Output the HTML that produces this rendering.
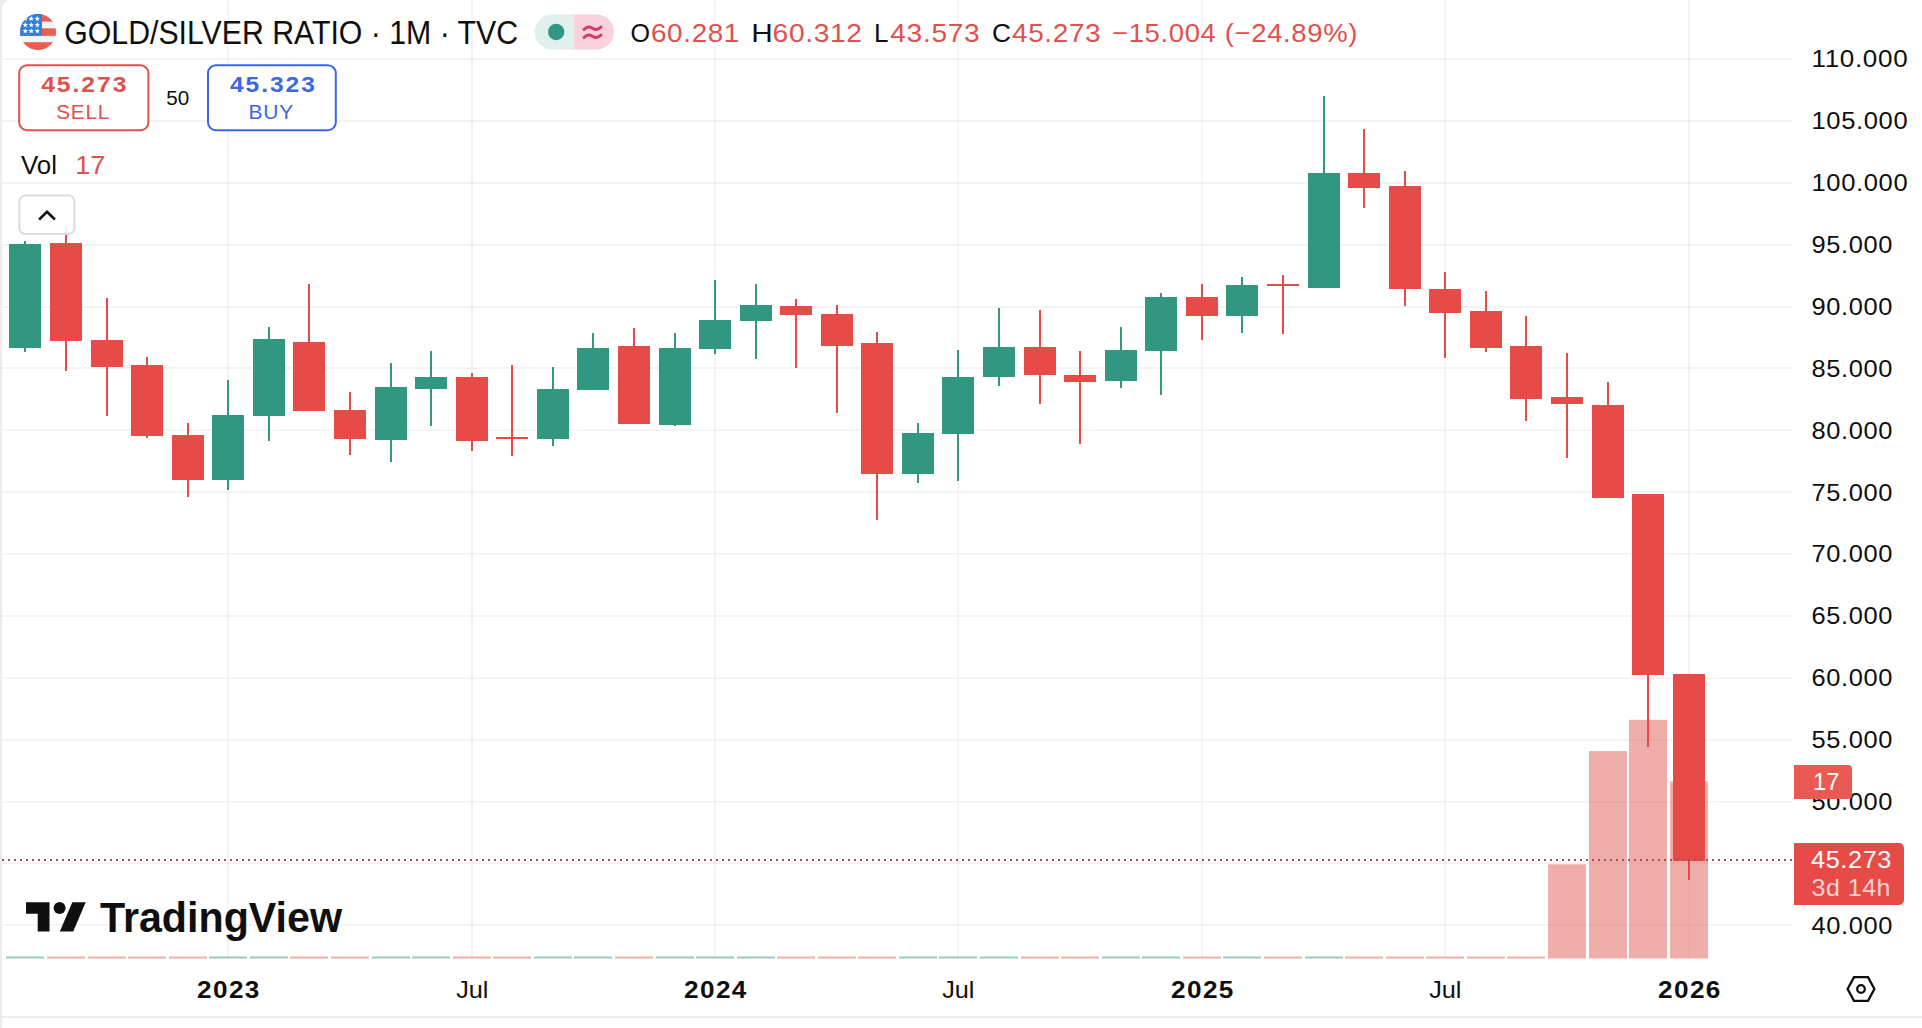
<!DOCTYPE html>
<html lang="en"><head><meta charset="utf-8"><title>GOLD/SILVER RATIO · 1M · TVC</title>
<style>html,body{margin:0;padding:0;background:#fff;overflow:hidden}svg{display:block}text{white-space:pre;font-family:"Liberation Sans",Arial,sans-serif}</style></head><body>
<svg width="1922" height="1028" viewBox="0 0 1922 1028" role="img" aria-label="GOLD/SILVER RATIO monthly candlestick chart">
<rect x="0" y="0" width="1922" height="1028" fill="#ececec"/>
<path d="M2 1016V9a9 9 0 0 1 9-9H1922V1016Z" fill="#fff"/>
<rect x="2" y="1018" width="1920" height="10" fill="#fff"/>
<g fill="#000" fill-opacity="0.043">
<rect x="2" y="58" width="1790" height="2"/>
<rect x="2" y="120" width="1790" height="2"/>
<rect x="2" y="182" width="1790" height="2"/>
<rect x="2" y="244" width="1790" height="2"/>
<rect x="2" y="306" width="1790" height="2"/>
<rect x="2" y="367" width="1790" height="2"/>
<rect x="2" y="429" width="1790" height="2"/>
<rect x="2" y="491" width="1790" height="2"/>
<rect x="2" y="553" width="1790" height="2"/>
<rect x="2" y="615" width="1790" height="2"/>
<rect x="2" y="677" width="1790" height="2"/>
<rect x="2" y="739" width="1790" height="2"/>
<rect x="2" y="801" width="1790" height="2"/>
<rect x="2" y="862" width="1790" height="2"/>
<rect x="2" y="924" width="1790" height="2"/>
<rect x="227.0" y="0" width="2" height="958"/>
<rect x="471.0" y="0" width="2" height="958"/>
<rect x="714.0" y="0" width="2" height="958"/>
<rect x="957.0" y="0" width="2" height="958"/>
<rect x="1201.0" y="0" width="2" height="958"/>
<rect x="1444.0" y="0" width="2" height="958"/>
<rect x="1688.0" y="0" width="2" height="958"/>
</g>
<g>
<rect x="6.0" y="956.5" width="38" height="2.0" fill="#319781" fill-opacity="0.5"/>
<rect x="47.0" y="956.5" width="38" height="2.0" fill="#e25d55" fill-opacity="0.5"/>
<rect x="88.0" y="956.5" width="38" height="2.0" fill="#e25d55" fill-opacity="0.5"/>
<rect x="128.0" y="956.5" width="38" height="2.0" fill="#e25d55" fill-opacity="0.5"/>
<rect x="169.0" y="956.5" width="38" height="2.0" fill="#e25d55" fill-opacity="0.5"/>
<rect x="209.0" y="956.5" width="38" height="2.0" fill="#319781" fill-opacity="0.5"/>
<rect x="250.0" y="956.5" width="38" height="2.0" fill="#319781" fill-opacity="0.5"/>
<rect x="290.0" y="956.5" width="38" height="2.0" fill="#e25d55" fill-opacity="0.5"/>
<rect x="331.0" y="956.5" width="38" height="2.0" fill="#e25d55" fill-opacity="0.5"/>
<rect x="372.0" y="956.5" width="38" height="2.0" fill="#319781" fill-opacity="0.5"/>
<rect x="412.0" y="956.5" width="38" height="2.0" fill="#319781" fill-opacity="0.5"/>
<rect x="453.0" y="956.5" width="38" height="2.0" fill="#e25d55" fill-opacity="0.5"/>
<rect x="493.0" y="956.5" width="38" height="2.0" fill="#e25d55" fill-opacity="0.5"/>
<rect x="534.0" y="956.5" width="38" height="2.0" fill="#319781" fill-opacity="0.5"/>
<rect x="574.0" y="956.5" width="38" height="2.0" fill="#319781" fill-opacity="0.5"/>
<rect x="615.0" y="956.5" width="38" height="2.0" fill="#e25d55" fill-opacity="0.5"/>
<rect x="656.0" y="956.5" width="38" height="2.0" fill="#319781" fill-opacity="0.5"/>
<rect x="696.0" y="956.5" width="38" height="2.0" fill="#319781" fill-opacity="0.5"/>
<rect x="737.0" y="956.5" width="38" height="2.0" fill="#319781" fill-opacity="0.5"/>
<rect x="777.0" y="956.5" width="38" height="2.0" fill="#e25d55" fill-opacity="0.5"/>
<rect x="818.0" y="956.5" width="38" height="2.0" fill="#e25d55" fill-opacity="0.5"/>
<rect x="858.0" y="956.5" width="38" height="2.0" fill="#e25d55" fill-opacity="0.5"/>
<rect x="899.0" y="956.5" width="38" height="2.0" fill="#319781" fill-opacity="0.5"/>
<rect x="939.0" y="956.5" width="38" height="2.0" fill="#319781" fill-opacity="0.5"/>
<rect x="980.0" y="956.5" width="38" height="2.0" fill="#319781" fill-opacity="0.5"/>
<rect x="1021.0" y="956.5" width="38" height="2.0" fill="#e25d55" fill-opacity="0.5"/>
<rect x="1061.0" y="956.5" width="38" height="2.0" fill="#e25d55" fill-opacity="0.5"/>
<rect x="1102.0" y="956.5" width="38" height="2.0" fill="#319781" fill-opacity="0.5"/>
<rect x="1142.0" y="956.5" width="38" height="2.0" fill="#319781" fill-opacity="0.5"/>
<rect x="1183.0" y="956.5" width="38" height="2.0" fill="#e25d55" fill-opacity="0.5"/>
<rect x="1223.0" y="956.5" width="38" height="2.0" fill="#319781" fill-opacity="0.5"/>
<rect x="1264.0" y="956.5" width="38" height="2.0" fill="#e25d55" fill-opacity="0.5"/>
<rect x="1305.0" y="956.5" width="38" height="2.0" fill="#319781" fill-opacity="0.5"/>
<rect x="1345.0" y="956.5" width="38" height="2.0" fill="#e25d55" fill-opacity="0.5"/>
<rect x="1386.0" y="956.5" width="38" height="2.0" fill="#e25d55" fill-opacity="0.5"/>
<rect x="1426.0" y="956.5" width="38" height="2.0" fill="#e25d55" fill-opacity="0.5"/>
<rect x="1467.0" y="956.5" width="38" height="2.0" fill="#e25d55" fill-opacity="0.5"/>
<rect x="1507.0" y="956.5" width="38" height="2.0" fill="#e25d55" fill-opacity="0.5"/>
<rect x="1548.0" y="864.3" width="38" height="94.2" fill="#e25d55" fill-opacity="0.5"/>
<rect x="1589.0" y="751.1" width="38" height="207.4" fill="#e25d55" fill-opacity="0.5"/>
<rect x="1629.0" y="719.8" width="38" height="238.7" fill="#e25d55" fill-opacity="0.5"/>
<rect x="1670.0" y="781.4" width="38" height="177.1" fill="#e25d55" fill-opacity="0.5"/>
</g>
<g>
<rect x="24" y="241" width="2" height="111" fill="#319781"/>
<rect x="9" y="244" width="32" height="104" fill="#319781"/>
<rect x="65" y="226" width="2" height="145" fill="#e64b48"/>
<rect x="50" y="243" width="32" height="98" fill="#e64b48"/>
<rect x="106" y="298" width="2" height="118" fill="#e64b48"/>
<rect x="91" y="340" width="32" height="27" fill="#e64b48"/>
<rect x="146" y="357" width="2" height="81" fill="#e64b48"/>
<rect x="131" y="365" width="32" height="71" fill="#e64b48"/>
<rect x="187" y="423" width="2" height="74" fill="#e64b48"/>
<rect x="172" y="435" width="32" height="45" fill="#e64b48"/>
<rect x="227" y="380" width="2" height="110" fill="#319781"/>
<rect x="212" y="415" width="32" height="65" fill="#319781"/>
<rect x="268" y="327" width="2" height="114" fill="#319781"/>
<rect x="253" y="339" width="32" height="77" fill="#319781"/>
<rect x="308" y="284" width="2" height="127" fill="#e64b48"/>
<rect x="293" y="342" width="32" height="69" fill="#e64b48"/>
<rect x="349" y="392" width="2" height="63" fill="#e64b48"/>
<rect x="334" y="410" width="32" height="29" fill="#e64b48"/>
<rect x="390" y="363" width="2" height="99" fill="#319781"/>
<rect x="375" y="387" width="32" height="53" fill="#319781"/>
<rect x="430" y="351" width="2" height="75" fill="#319781"/>
<rect x="415" y="377" width="32" height="12" fill="#319781"/>
<rect x="471" y="373" width="2" height="78" fill="#e64b48"/>
<rect x="456" y="377" width="32" height="64" fill="#e64b48"/>
<rect x="511" y="365" width="2" height="91" fill="#e64b48"/>
<rect x="496" y="437" width="32" height="2" fill="#e64b48"/>
<rect x="552" y="367" width="2" height="79" fill="#319781"/>
<rect x="537" y="389" width="32" height="50" fill="#319781"/>
<rect x="592" y="333" width="2" height="57" fill="#319781"/>
<rect x="577" y="348" width="32" height="42" fill="#319781"/>
<rect x="633" y="328" width="2" height="96" fill="#e64b48"/>
<rect x="618" y="346" width="32" height="78" fill="#e64b48"/>
<rect x="674" y="333" width="2" height="93" fill="#319781"/>
<rect x="659" y="348" width="32" height="77" fill="#319781"/>
<rect x="714" y="280" width="2" height="74" fill="#319781"/>
<rect x="699" y="320" width="32" height="29" fill="#319781"/>
<rect x="755" y="284" width="2" height="75" fill="#319781"/>
<rect x="740" y="305" width="32" height="16" fill="#319781"/>
<rect x="795" y="299" width="2" height="69" fill="#e64b48"/>
<rect x="780" y="306" width="32" height="9" fill="#e64b48"/>
<rect x="836" y="305" width="2" height="108" fill="#e64b48"/>
<rect x="821" y="314" width="32" height="32" fill="#e64b48"/>
<rect x="876" y="332" width="2" height="188" fill="#e64b48"/>
<rect x="861" y="343" width="32" height="131" fill="#e64b48"/>
<rect x="917" y="423" width="2" height="60" fill="#319781"/>
<rect x="902" y="433" width="32" height="41" fill="#319781"/>
<rect x="957" y="350" width="2" height="131" fill="#319781"/>
<rect x="942" y="377" width="32" height="57" fill="#319781"/>
<rect x="998" y="308" width="2" height="78" fill="#319781"/>
<rect x="983" y="347" width="32" height="30" fill="#319781"/>
<rect x="1039" y="310" width="2" height="94" fill="#e64b48"/>
<rect x="1024" y="347" width="32" height="28" fill="#e64b48"/>
<rect x="1079" y="351" width="2" height="93" fill="#e64b48"/>
<rect x="1064" y="375" width="32" height="7" fill="#e64b48"/>
<rect x="1120" y="327" width="2" height="61" fill="#319781"/>
<rect x="1105" y="350" width="32" height="31" fill="#319781"/>
<rect x="1160" y="293" width="2" height="102" fill="#319781"/>
<rect x="1145" y="297" width="32" height="54" fill="#319781"/>
<rect x="1201" y="284" width="2" height="56" fill="#e64b48"/>
<rect x="1186" y="297" width="32" height="19" fill="#e64b48"/>
<rect x="1241" y="277" width="2" height="56" fill="#319781"/>
<rect x="1226" y="285" width="32" height="31" fill="#319781"/>
<rect x="1282" y="275" width="2" height="59" fill="#e64b48"/>
<rect x="1267" y="284" width="32" height="2" fill="#e64b48"/>
<rect x="1323" y="96" width="2" height="192" fill="#319781"/>
<rect x="1308" y="173" width="32" height="115" fill="#319781"/>
<rect x="1363" y="129" width="2" height="79" fill="#e64b48"/>
<rect x="1348" y="173" width="32" height="15" fill="#e64b48"/>
<rect x="1404" y="171" width="2" height="135" fill="#e64b48"/>
<rect x="1389" y="186" width="32" height="103" fill="#e64b48"/>
<rect x="1444" y="272" width="2" height="86" fill="#e64b48"/>
<rect x="1429" y="289" width="32" height="24" fill="#e64b48"/>
<rect x="1485" y="291" width="2" height="61" fill="#e64b48"/>
<rect x="1470" y="311" width="32" height="37" fill="#e64b48"/>
<rect x="1525" y="316" width="2" height="105" fill="#e64b48"/>
<rect x="1510" y="346" width="32" height="53" fill="#e64b48"/>
<rect x="1566" y="353" width="2" height="105" fill="#e64b48"/>
<rect x="1551" y="397" width="32" height="7" fill="#e64b48"/>
<rect x="1607" y="382" width="2" height="116" fill="#e64b48"/>
<rect x="1592" y="405" width="32" height="93" fill="#e64b48"/>
<rect x="1647" y="494" width="2" height="253" fill="#e64b48"/>
<rect x="1632" y="494" width="32" height="181" fill="#e64b48"/>
<rect x="1688" y="674" width="2" height="206" fill="#e64b48"/>
<rect x="1673" y="674" width="32" height="187" fill="#e64b48"/>
</g>
<path d="M2 860H1793" stroke="#b4465f" stroke-width="2" stroke-dasharray="2 4" fill="none"/>
<text x="1811.5" y="67.2" font-size="24" fill="#0f0f0f" textLength="96.8" lengthAdjust="spacingAndGlyphs" letter-spacing="0.6" >110.000</text>
<text x="1811.5" y="129.1" font-size="24" fill="#0f0f0f" textLength="96.8" lengthAdjust="spacingAndGlyphs" letter-spacing="0.6" >105.000</text>
<text x="1811.5" y="191.0" font-size="24" fill="#0f0f0f" textLength="96.8" lengthAdjust="spacingAndGlyphs" letter-spacing="0.6" >100.000</text>
<text x="1811.5" y="252.9" font-size="24" fill="#0f0f0f" textLength="81.6" lengthAdjust="spacingAndGlyphs" letter-spacing="0.6" >95.000</text>
<text x="1811.5" y="314.8" font-size="24" fill="#0f0f0f" textLength="81.6" lengthAdjust="spacingAndGlyphs" letter-spacing="0.6" >90.000</text>
<text x="1811.5" y="376.7" font-size="24" fill="#0f0f0f" textLength="81.6" lengthAdjust="spacingAndGlyphs" letter-spacing="0.6" >85.000</text>
<text x="1811.5" y="438.6" font-size="24" fill="#0f0f0f" textLength="81.6" lengthAdjust="spacingAndGlyphs" letter-spacing="0.6" >80.000</text>
<text x="1811.5" y="500.5" font-size="24" fill="#0f0f0f" textLength="81.6" lengthAdjust="spacingAndGlyphs" letter-spacing="0.6" >75.000</text>
<text x="1811.5" y="562.4" font-size="24" fill="#0f0f0f" textLength="81.6" lengthAdjust="spacingAndGlyphs" letter-spacing="0.6" >70.000</text>
<text x="1811.5" y="624.3" font-size="24" fill="#0f0f0f" textLength="81.6" lengthAdjust="spacingAndGlyphs" letter-spacing="0.6" >65.000</text>
<text x="1811.5" y="686.2" font-size="24" fill="#0f0f0f" textLength="81.6" lengthAdjust="spacingAndGlyphs" letter-spacing="0.6" >60.000</text>
<text x="1811.5" y="748.1" font-size="24" fill="#0f0f0f" textLength="81.6" lengthAdjust="spacingAndGlyphs" letter-spacing="0.6" >55.000</text>
<text x="1811.5" y="810.0" font-size="24" fill="#0f0f0f" textLength="81.6" lengthAdjust="spacingAndGlyphs" letter-spacing="0.6" >50.000</text>
<text x="1811.5" y="871.9" font-size="24" fill="#0f0f0f" textLength="81.6" lengthAdjust="spacingAndGlyphs" letter-spacing="0.6" >45.000</text>
<text x="1811.5" y="933.8" font-size="24" fill="#0f0f0f" textLength="81.6" lengthAdjust="spacingAndGlyphs" letter-spacing="0.6" >40.000</text>
<text x="197.0" y="998.2" font-size="24" fill="#0f0f0f" font-weight="700" textLength="63.8" lengthAdjust="spacingAndGlyphs" letter-spacing="1.3" >2023</text>
<text x="456.2" y="998.2" font-size="24" fill="#0f0f0f" textLength="32.3" lengthAdjust="spacingAndGlyphs" >Jul</text>
<text x="684.0" y="998.2" font-size="24" fill="#0f0f0f" font-weight="700" textLength="63.8" lengthAdjust="spacingAndGlyphs" letter-spacing="1.3" >2024</text>
<text x="942.2" y="998.2" font-size="24" fill="#0f0f0f" textLength="32.3" lengthAdjust="spacingAndGlyphs" >Jul</text>
<text x="1171.0" y="998.2" font-size="24" fill="#0f0f0f" font-weight="700" textLength="63.8" lengthAdjust="spacingAndGlyphs" letter-spacing="1.3" >2025</text>
<text x="1429.2" y="998.2" font-size="24" fill="#0f0f0f" textLength="32.3" lengthAdjust="spacingAndGlyphs" >Jul</text>
<text x="1658.0" y="998.2" font-size="24" fill="#0f0f0f" font-weight="700" textLength="63.8" lengthAdjust="spacingAndGlyphs" letter-spacing="1.3" >2026</text>
<g fill="none" stroke="#0f0f0f" stroke-width="2.3" stroke-linejoin="miter"><path d="M1847.6 989L1854 977.2H1868L1874.4 989L1868 1000.8H1854Z"/><circle cx="1861" cy="989" r="3.8"/></g>
<path d="M1794 765H1848a4 4 0 0 1 4 4V795a4 4 0 0 1-4 4H1794Z" fill="#e85a52"/>
<text x="1813.0" y="789.6" font-size="24" fill="#fff" textLength="26.5" lengthAdjust="spacingAndGlyphs" >17</text>
<path d="M1794 843H1899a5 5 0 0 1 5 5V900a5 5 0 0 1-5 5H1794Z" fill="#e64b48"/>
<text x="1811.0" y="867.8" font-size="24" fill="#fff" textLength="81.0" lengthAdjust="spacingAndGlyphs" letter-spacing="0.6" >45.273</text>
<text x="1811.5" y="895.9" font-size="24" fill="#fbd3d1" textLength="79.5" lengthAdjust="spacingAndGlyphs" letter-spacing="0.5" >3d 14h</text>
<defs><clipPath id="fc"><circle cx="38" cy="32" r="18"/></clipPath></defs>
<g clip-path="url(#fc)"><rect x="20" y="14" width="36" height="36" fill="#f3f5f7"/>
<rect x="20" y="14" width="36" height="7.6" fill="#ea5d50"/><rect x="20" y="28.3" width="36" height="7.5" fill="#ea5d50"/><rect x="20" y="42.2" width="36" height="8" fill="#ea5d50"/>
<rect x="20" y="14" width="22" height="21.8" fill="#2f7fe0"/>
<polygon points="25.30,16.00 26.04,17.78 27.96,17.93 26.50,19.19 26.95,21.07 25.30,20.06 23.65,21.07 24.10,19.19 22.64,17.93 24.56,17.78" fill="#fff"/>
<polygon points="25.30,22.10 26.04,23.88 27.96,24.03 26.50,25.29 26.95,27.17 25.30,26.16 23.65,27.17 24.10,25.29 22.64,24.03 24.56,23.88" fill="#fff"/>
<polygon points="25.30,28.20 26.04,29.98 27.96,30.13 26.50,31.39 26.95,33.27 25.30,32.26 23.65,33.27 24.10,31.39 22.64,30.13 24.56,29.98" fill="#fff"/>
<polygon points="31.20,16.00 31.94,17.78 33.86,17.93 32.40,19.19 32.85,21.07 31.20,20.06 29.55,21.07 30.00,19.19 28.54,17.93 30.46,17.78" fill="#fff"/>
<polygon points="31.20,22.10 31.94,23.88 33.86,24.03 32.40,25.29 32.85,27.17 31.20,26.16 29.55,27.17 30.00,25.29 28.54,24.03 30.46,23.88" fill="#fff"/>
<polygon points="31.20,28.20 31.94,29.98 33.86,30.13 32.40,31.39 32.85,33.27 31.20,32.26 29.55,33.27 30.00,31.39 28.54,30.13 30.46,29.98" fill="#fff"/>
<polygon points="37.30,16.00 38.04,17.78 39.96,17.93 38.50,19.19 38.95,21.07 37.30,20.06 35.65,21.07 36.10,19.19 34.64,17.93 36.56,17.78" fill="#fff"/>
<polygon points="37.30,22.10 38.04,23.88 39.96,24.03 38.50,25.29 38.95,27.17 37.30,26.16 35.65,27.17 36.10,25.29 34.64,24.03 36.56,23.88" fill="#fff"/>
<polygon points="37.30,28.20 38.04,29.98 39.96,30.13 38.50,31.39 38.95,33.27 37.30,32.26 35.65,33.27 36.10,31.39 34.64,30.13 36.56,29.98" fill="#fff"/>
</g>
<text x="64.3" y="44.0" font-size="33" fill="#0f0f0f" textLength="453.8" lengthAdjust="spacingAndGlyphs">GOLD/SILVER RATIO · 1M · TVC</text>
<path d="M574 14.5H552a17.5 17.5 0 0 0 0 35H574Z" fill="#e0f0ed"/>
<path d="M574 14.5H596.5a17.5 17.5 0 0 1 0 35H574Z" fill="#f9d2db"/>
<circle cx="556.2" cy="32" r="8.2" fill="#319781"/>
<g fill="none" stroke="#d43a6a" stroke-width="3" stroke-linecap="round"><path d="M584 29.5q4.2-4.2 8.5-1.2t8.5-1.3"/><path d="M584 37.5q4.2-4.2 8.5-1.2t8.5-1.3"/></g>
<text x="630.5" y="41.6" font-size="26" fill="#0f0f0f" textLength="19.5" lengthAdjust="spacingAndGlyphs" >O</text>
<text x="651.0" y="41.6" font-size="26" fill="#e0504d" textLength="89.0" lengthAdjust="spacingAndGlyphs" letter-spacing="0.6" >60.281</text>
<text x="751.2" y="41.6" font-size="26" fill="#0f0f0f" textLength="21.5" lengthAdjust="spacingAndGlyphs" >H</text>
<text x="772.6" y="41.6" font-size="26" fill="#e0504d" textLength="90.0" lengthAdjust="spacingAndGlyphs" letter-spacing="0.6" >60.312</text>
<text x="874.0" y="41.6" font-size="26" fill="#0f0f0f" textLength="14.5" lengthAdjust="spacingAndGlyphs" >L</text>
<text x="890.3" y="41.6" font-size="26" fill="#e0504d" textLength="90.0" lengthAdjust="spacingAndGlyphs" letter-spacing="0.6" >43.573</text>
<text x="992.0" y="41.6" font-size="26" fill="#0f0f0f" textLength="19.0" lengthAdjust="spacingAndGlyphs" >C</text>
<text x="1012.0" y="41.6" font-size="26" fill="#e0504d" textLength="89.3" lengthAdjust="spacingAndGlyphs" letter-spacing="0.6" >45.273</text>
<text x="1112.0" y="41.6" font-size="26" fill="#e0504d" textLength="246.0" lengthAdjust="spacingAndGlyphs" letter-spacing="0.6" >−15.004 (−24.89%)</text>
<rect x="19.2" y="65.2" width="129.2" height="65" rx="8" fill="#fff" stroke="#e0504d" stroke-width="2"/>
<rect x="208" y="65.2" width="127.8" height="65" rx="8" fill="#fff" stroke="#3a66ea" stroke-width="2"/>
<text x="41.2" y="92.2" font-size="22.3" fill="#e0504d" font-weight="700" textLength="87.2" lengthAdjust="spacingAndGlyphs" letter-spacing="1.8" >45.273</text>
<text x="56.2" y="119.4" font-size="21" fill="#e0504d" textLength="54.0" lengthAdjust="spacingAndGlyphs" letter-spacing="0.8" >SELL</text>
<text x="166.2" y="104.6" font-size="19.5" fill="#0f0f0f" textLength="23.0" lengthAdjust="spacingAndGlyphs" >50</text>
<text x="230.0" y="92.2" font-size="22.3" fill="#3a66ea" font-weight="700" textLength="86.8" lengthAdjust="spacingAndGlyphs" letter-spacing="1.8" >45.323</text>
<text x="248.6" y="119.4" font-size="21" fill="#3a66ea" textLength="45.5" lengthAdjust="spacingAndGlyphs" letter-spacing="0.8" >BUY</text>
<text x="21.0" y="173.8" font-size="26" fill="#0f0f0f" textLength="36.0" lengthAdjust="spacingAndGlyphs" >Vol</text>
<text x="75.2" y="173.8" font-size="26" fill="#e0504d" textLength="30.2" lengthAdjust="spacingAndGlyphs" >17</text>
<rect x="19.4" y="195.6" width="55" height="38.4" rx="6" fill="#fff" fill-opacity="0.88" stroke="#dcdcdc" stroke-width="2"/>
<path d="M40 218.6L47 211.8L54 218.6" fill="none" stroke="#0f0f0f" stroke-width="2.6" stroke-linecap="square" stroke-linejoin="miter"/>
<g fill="#0f0f0f"><path d="M49.5 931.5H37.7V913.7H26V902.2H49.5Z"/><circle cx="59.6" cy="907.9" r="6"/><path d="M73.2 931.5H59.8L72.3 902.2H85.7Z"/></g>
<text x="100.0" y="931.5" font-size="42.5" fill="#0f0f0f" font-weight="700" textLength="242.0" lengthAdjust="spacingAndGlyphs" >TradingView</text>
</svg></body></html>
